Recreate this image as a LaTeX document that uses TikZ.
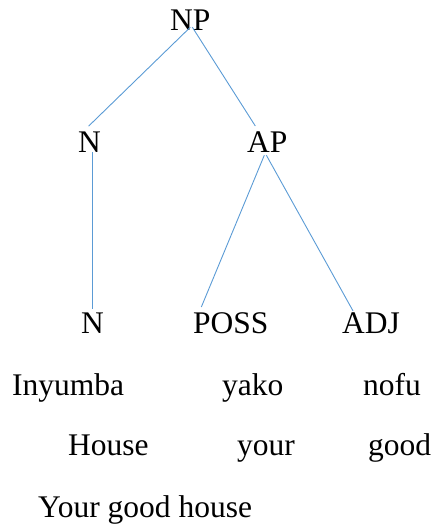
\documentclass[tikz,border=0pt]{standalone}
\usepackage{fontspec}
\setmainfont{Liberation Serif}
\begin{document}
\begin{tikzpicture}[x=1pt,y=-1pt,
  lbl/.style={inner sep=0pt,anchor=base west,font=\fontsize{31.5}{38}\selectfont},
  branch/.style={draw={rgb,255:red,91;green,155;blue,213},line width=0.9pt}]
\useasboundingbox (0,0) rectangle (435,525);
\node[lbl] (NP) at (170,30) {NP};
\node[lbl] (N1) at (78,152) {N};
\node[lbl] (AP) at (247,152) {AP};
\node[lbl] (N2) at (81,333) {N};
\node[lbl] (POSS) at (193,333) {POSS};
\node[lbl] (ADJ) at (342,333) {ADJ};
\node[lbl] (w1) at (12,395) {Inyumba};
\node[lbl] (w2) at (222,395) {yako};
\node[lbl] (w3) at (363,395) {nofu};
\node[lbl] (g1) at (68,455) {House};
\node[lbl] (g2) at (237,455) {your};
\node[lbl] (g3) at (368,455) {good};
\node[lbl] (tr) at (38,517) {Your good house};
\coordinate (top1) at ([xshift=2.5pt]N1.south);
\draw[branch] ([xshift=0pt,yshift=3pt]NP.south) -- ([xshift=-1pt,yshift=5pt]N1.north);
\draw[branch] ([xshift=2pt,yshift=3pt]NP.south) -- ([xshift=-12pt,yshift=5pt]AP.north);
\draw[branch,line width=1.1pt] (top1) -- ([yshift=3pt]top1 |- N2.north);
\draw[branch] ([xshift=-3pt,yshift=-3pt]AP.south) -- ([xshift=-29.5pt,yshift=5pt]POSS.north);
\draw[branch] ([xshift=-1pt,yshift=-3pt]AP.south) -- ([xshift=-18pt,yshift=1pt]ADJ.north);
\end{tikzpicture}
\end{document}
